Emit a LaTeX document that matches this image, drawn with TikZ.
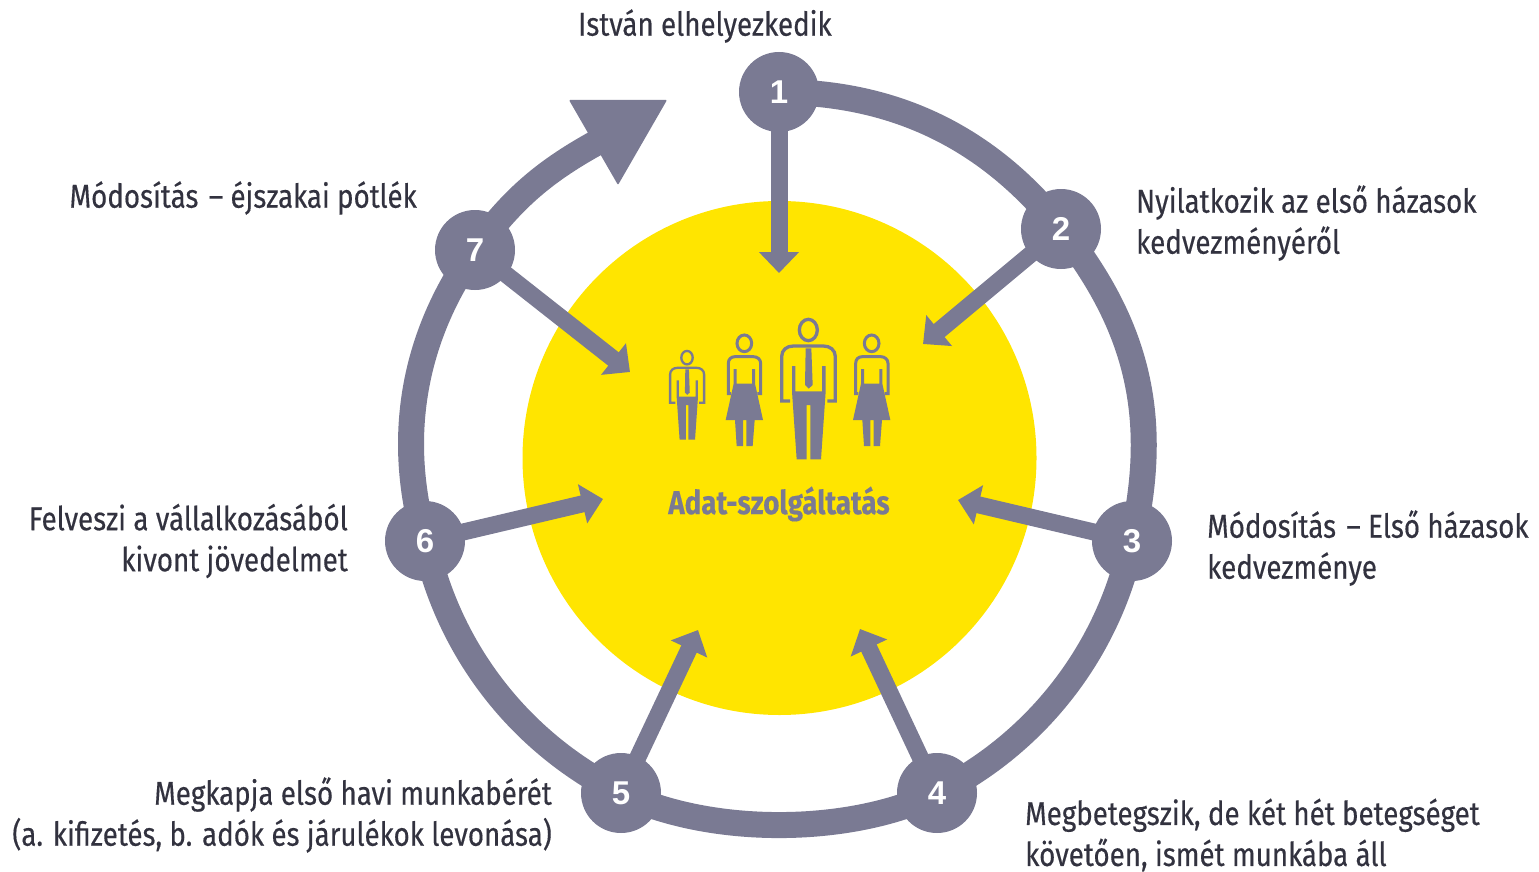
\documentclass[tikz,border=0pt]{standalone}
\usepackage{fontspec}
\setmainfont[FakeStretch=0.84,FakeBold=0.35]{Fira Sans}
\newfontfamily\numfont{Liberation Sans}
\usetikzlibrary{arrows.meta,backgrounds}
\definecolor{ringc}{HTML}{7A7A93}
\definecolor{yel}{HTML}{FFE500}
\definecolor{txt}{HTML}{32323F}
\tikzset{
 stepnode/.style={circle,fill=ringc,minimum size=80pt,inner sep=0pt,text=white,font=\fontsize{33}{35}\selectfont\numfont\bfseries},
 ringseg/.style={draw=ringc,line width=26pt,bend left=25.7,looseness=0.9},
 inarrow/.style={draw=ringc,line width=17pt,-{Triangle[length=21pt,width=39pt,fill=ringc]}},
 lab/.style={text=txt,inner sep=0pt,font=\fontsize{33}{41}\selectfont},
}
\newcommand{\manfig}[1]{%
 \draw[ringc,line width=#1pt] (475,90) ellipse (27 and 32);
 \draw[ringc,line width=#1pt] (420,303) -- (395,303) -- (395,170) .. controls (395,150) and (410,138) .. (430,138) -- (520,138) .. controls (540,138) and (556,150) .. (556,170) -- (556,303) -- (532,303);
 \fill[ringc] (467,145) -- (484,145) -- (488,255) -- (476,266) -- (465,255) -- cycle;
 \fill[ringc] (426,198) -- (436,198) -- (436,274) -- (516,274) -- (516,198) -- (527,198) -- (527,275) -- (513,478) -- (481,478) -- (481,315) -- (470,315) -- (470,478) -- (440,478) -- (426,275) -- cycle;
}
\newcommand{\womanfig}{%
 \draw[ringc,line width=3pt] (283,130) ellipse (22 and 25);
 \draw[ringc,line width=3pt] (243,281) -- (235,281) -- (235,190) .. controls (235,178) and (243,170) .. (255,170) -- (310,170) .. controls (322,170) and (332,178) .. (332,190) -- (332,281) -- (322,281);
 \fill[ringc] (251,207) -- (260,207) -- (260,251) -- (306,251) -- (306,207) -- (315,207) -- (315,251) -- (339,360) -- (314,360) -- (308,438) -- (289,438) -- (289,360) -- (279,360) -- (279,438) -- (260,438) -- (255,360) -- (227,360) -- (251,251) -- cycle;
}
\begin{document}
\begin{tikzpicture}[x=1pt,y=-1pt]
\useasboundingbox (0,0) rectangle (1539,872);
\node[stepnode] (n1) at (779,92) {1};
\node[stepnode] (n2) at (1061,229) {2};
\node[stepnode] (n3) at (1132,541) {3};
\node[stepnode] (n4) at (937,793) {4};
\node[stepnode] (n5) at (621,793) {5};
\node[stepnode] (n6) at (425,541) {6};
\node[stepnode] (n7) at (475,250) {7};
\coordinate (ringend) at (596,143);
\coordinate (t1) at (779,273);
\coordinate (t2) at (923,344);
\coordinate (t3) at (958,500);
\coordinate (t4) at (860,629);
\coordinate (t5) at (698,630);
\coordinate (t6) at (603,499);
\coordinate (t7) at (630,372);
\begin{scope}[on background layer]
\fill[yel] (779.5,458) circle (257);
\draw[ringseg,looseness=0.95] (n1.center) to (n2.center);
\draw[ringseg,looseness=1.0] (n2.center) to (n3.center);
\draw[ringseg,looseness=0.9] (n3.center) to (n4.center);
\draw[ringseg,looseness=0.8] (n4.center) to (n5.center);
\draw[ringseg,looseness=0.9] (n5.center) to (n6.center);
\draw[ringseg,looseness=0.93] (n6.center) to (n7.center);
\draw[ringseg,bend left=12.5,looseness=0.97] (n7.center) to (ringend);
\fill[ringc,rounded corners=1pt] (569,100) -- (667,100) -- (618,185) -- cycle;
\draw[inarrow] (n1.center) -- (t1);
\draw[inarrow] (n2.center) -- (t2);
\draw[inarrow] (n3.center) -- (t3);
\draw[inarrow] (n4.center) -- (t4);
\draw[inarrow] (n5.center) -- (t5);
\draw[inarrow] (n6.center) -- (t6);
\draw[inarrow] (n7.center) -- (t7);
\end{scope}
% people
\begin{scope}[shift={(650,300)},scale=1/3]
 \manfig{3.3}
 \womanfig
 \begin{scope}[xshift=382pt]\womanfig\end{scope}
 \begin{scope}[shift={(111,173)},scale=0.634,shift={(-475,-90)}]\manfig{2.3}\end{scope}
\end{scope}
\node[inner sep=0pt,text=ringc,font=\fontsize{33}{36}\selectfont\bfseries] (ctitle) at (779,504) {Adat-szolgáltatás};
\node[lab,anchor=west] (l1) at (578,26) {István elhelyezkedik};
\node[lab,anchor=west,align=left] (l2) at (1136,223) {Nyilatkozik az első házasok\\kedvezményéről};
\node[lab,anchor=west,align=left] (l3) at (1207,548) {Módosítás\kern3pt{} – Első házasok\\kedvezménye};
\node[lab,anchor=west,align=left] (l4) at (1025,835) {Megbetegszik, de két hét betegséget\\követően, ismét munkába áll};
\node[lab,anchor=east,align=right] (l5) at (552,815) {Megkapja első havi munkabérét\\(a. kifizetés, b. adók és járulékok levonása)};
\node[lab,anchor=east,align=right] (l6) at (348,541) {Felveszi a vállalkozásából\\kivont jövedelmet};
\node[lab,anchor=east] (l7) at (417,198) {Módosítás\kern3pt{} – éjszakai pótlék};
\end{tikzpicture}
\end{document}
